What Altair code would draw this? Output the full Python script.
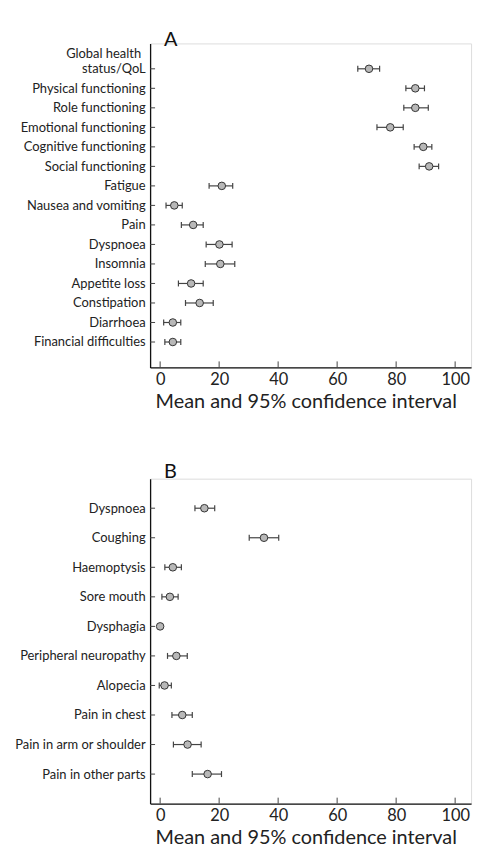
import altair as alt
import pandas as pd

# ---- Panel A data ----
cats_A = ["Global health status/QoL", "Physical functioning", "Role functioning",
          "Emotional functioning", "Cognitive functioning", "Social functioning",
          "Fatigue", "Nausea and vomiting", "Pain", "Dyspnoea", "Insomnia",
          "Appetite loss", "Constipation", "Diarrhoea", "Financial difficulties"]
mean_A = [70.8, 86.5, 86.5, 78.0, 89.2, 91.2, 20.9, 4.8, 11.2, 20.1, 20.4, 10.5, 13.4, 4.3, 4.3]
lo_A = [67.0, 83.3, 82.6, 73.5, 86.1, 87.8, 16.6, 2.0, 7.2, 15.6, 15.3, 6.2, 8.6, 1.2, 1.6]
hi_A = [74.4, 89.6, 90.9, 82.4, 92.1, 94.4, 24.6, 7.5, 14.6, 24.4, 25.3, 14.6, 18.0, 7.0, 7.0]

# ---- Panel B data ----
cats_B = ["Dyspnoea", "Coughing", "Haemoptysis", "Sore mouth", "Dysphagia",
          "Peripheral neuropathy", "Alopecia", "Pain in chest",
          "Pain in arm or shoulder", "Pain in other parts"]
mean_B = [15.0, 35.2, 4.3, 3.3, 0.0, 5.5, 1.5, 7.5, 9.3, 16.1]
lo_B = [11.8, 30.2, 1.6, 0.6, 0.0, 2.5, -0.3, 4.0, 4.5, 10.9]
hi_B = [18.5, 40.2, 7.2, 6.1, 0.0, 9.2, 3.8, 10.9, 13.9, 20.8]

x_ticks = [0, 20, 40, 60, 80, 100]
x_title = "Mean and 95% confidence interval"

FONT = "Lato"
W = 323


def panel(cats, mean, lo, hi, letter, letter_y, height, pad, label_size):
    n = len(cats)
    df = pd.DataFrame({"i": list(range(n)), "cat": cats, "mean": mean, "lo": lo, "hi": hi})
    xscale = alt.Scale(domain=[-3.4, 105.4], nice=False, zero=False)
    xaxis = alt.Axis(title=x_title, values=x_ticks, ticks=False, grid=False,
                     domainColor="#111", domainWidth=1.3, labelFontSize=16.5,
                     labelColor="#222", labelPadding=4, titleFontSize=20,
                     titleFontWeight="normal", titleColor="#222", titlePadding=4,
                     titleX=5, titleAlign="left",
                     labelFont=FONT, titleFont=FONT)
    shown = ["status/QoL" if c == "Global health status/QoL" else c for c in cats]
    arr = "[" + ",".join("'" + s + "'" for s in shown) + "]"
    yaxis = alt.Axis(title=None, ticks=False, grid=False, domainColor="#111",
                     domainWidth=1.3, labelFontSize=label_size, labelColor="#222",
                     labelPadding=5, labelLimit=300, minExtent=135, maxExtent=135,
                     labelFont=FONT, values=list(range(n)),
                     labelExpr=arr + "[datum.value]")
    yscale = alt.Scale(domain=[-pad, n - 1 + pad], reverse=True, nice=False, zero=False)
    Y = alt.Y("i:Q", scale=yscale, axis=yaxis)

    base = alt.Chart(df)
    bar = base.mark_rule(color="#444", strokeWidth=1.2).encode(
        x=alt.X("lo:Q", scale=xscale, axis=xaxis), x2="hi:Q", y=Y)
    capL = base.mark_point(shape="M0,-1L0,1", size=36, stroke="#444", strokeWidth=1.2,
                           filled=False, opacity=1).encode(
        x=alt.X("lo:Q", scale=xscale, axis=xaxis), y=Y)
    capH = base.mark_point(shape="M0,-1L0,1", size=36, stroke="#444", strokeWidth=1.2,
                           filled=False, opacity=1).encode(
        x=alt.X("hi:Q", scale=xscale, axis=xaxis), y=Y)
    pts = base.mark_circle(size=58, color="#b8b8b8", stroke="#333", strokeWidth=1,
                           opacity=1).encode(
        x=alt.X("mean:Q", scale=xscale, axis=xaxis), y=Y)
    yt = base.mark_rule(color="#444", strokeWidth=1).encode(
        y=Y, x=alt.value(0), x2=alt.value(5))
    xt = alt.Chart(pd.DataFrame({"v": x_ticks})).mark_rule(color="#444", strokeWidth=1).encode(
        x=alt.X("v:Q", scale=xscale, axis=xaxis), y=alt.value(height), y2=alt.value(height - 6))
    lt = alt.Chart(pd.DataFrame({"t": [letter]})).mark_text(
        align="left", baseline="alphabetic", fontSize=20, font=FONT, color="#111").encode(
        x=alt.value(14), y=alt.value(letter_y), text="t:N")
    layers = [bar, capL, capH, yt, xt, pts, lt]
    if "Global health status/QoL" in cats:
        gh = alt.Chart(pd.DataFrame({"i": [0], "t": ["Global health"]})).mark_text(
            align="right", baseline="middle", fontSize=label_size, font=FONT, color="#222", dy=-15).encode(
            y=Y, x=alt.value(-9), text="t:N")
        layers.append(gh)
    return alt.layer(*layers).properties(width=W, height=height)


pA = panel(cats_A, mean_A, lo_A, hi_A, "A", 3, 326, 1.3, 13)
pB = panel(cats_B, mean_B, lo_B, hi_B, "B", -1, 327, 1.0, 13)

chart = alt.vconcat(pA, pB, spacing=49).properties(
    padding={"left": 5, "top": 19, "right": 10, "bottom": -4}
).configure_view(strokeWidth=0, stroke="transparent").configure(font=FONT)

chart.save("out.html", embed_options={"renderer": "svg", "actions": False})
